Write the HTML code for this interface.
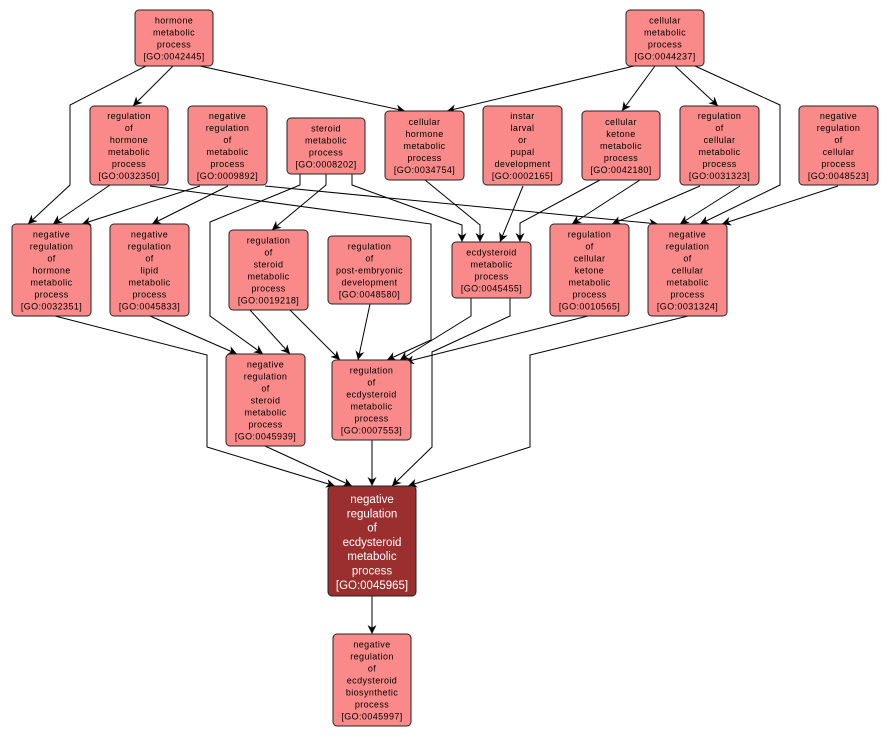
<!DOCTYPE html>
<html><head><meta charset="utf-8"><style>
body{margin:0;background:#fff;}
svg{display:block;}
.n{fill:#fa8a8a;stroke:#222;stroke-width:1;}
.t{font-family:"Liberation Sans",sans-serif;font-size:9px;fill:#000;text-anchor:middle;letter-spacing:0.4px;}
.e{fill:none;stroke:#000;stroke-width:1;}
</style></head><body>
<svg width="890" height="737" viewBox="0 0 890 737" xmlns="http://www.w3.org/2000/svg">
<defs><marker id="a" viewBox="0 0 10 10" refX="10" refY="5" markerWidth="9" markerHeight="9" orient="auto" markerUnits="userSpaceOnUse"><path d="M0,0 L10,5 L0,10 L3,5 z" fill="#000"/></marker></defs>
<g class="e" marker-end="url(#a)">
<polyline points="173,66 133,106"/>
<polyline points="146,66 70,105 70,185 28,224"/>
<polyline points="200,66 405,111"/>
<polyline points="634,66 447,111"/>
<polyline points="655,66 622,111"/>
<polyline points="675,66 718,106"/>
<polyline points="695,66 780,105 780,185 700,224"/>
<polyline points="110,185 53,224"/>
<polyline points="200,186 82,224"/>
<polyline points="228,186 152,224"/>
<polyline points="265,186 658,224"/>
<polyline points="150,186 431,224 431,340 387,360"/>
<polyline points="300,173 300,185 210,222 210,316 263,354"/>
<polyline points="326,173 326,185 272,230"/>
<polyline points="352,173 352,185 462,225 462,242"/>
<polyline points="425,180 480,225 480,242"/>
<polyline points="523,186 500,242"/>
<polyline points="600,180 520,223 520,242"/>
<polyline points="640,180 572,224"/>
<polyline points="700,186 612,224"/>
<polyline points="740,186 680,224"/>
<polyline points="838,186 722,224"/>
<polyline points="150,316 237,354"/>
<polyline points="250,310 290,354"/>
<polyline points="290,310 340,360"/>
<polyline points="370,304 358,360"/>
<polyline points="471,298 471,316 400,360"/>
<polyline points="588,316 405,362"/>
<polyline points="510,298 510,316 432,352 432,447 392,486"/>
<polyline points="55,316 207,355 207,447 335,486"/>
<polyline points="265,446 352,486"/>
<polyline points="372,440 372,486"/>
<polyline points="688,316 530,355 530,447 408,486"/>
<polyline points="372,596 372,634"/>
</g>
<g>
<rect class="n" x="135" y="10" width="78" height="56" rx="4"/>
<rect class="n" x="626" y="10" width="78" height="56" rx="4"/>
<rect class="n" x="90" y="106" width="78" height="79" rx="4"/>
<rect class="n" x="188" y="106" width="79" height="79" rx="4"/>
<rect class="n" x="287" y="118" width="78" height="56" rx="4"/>
<rect class="n" x="385" y="111" width="79" height="69" rx="4"/>
<rect class="n" x="483" y="106" width="79" height="79" rx="4"/>
<rect class="n" x="582" y="111" width="78" height="69" rx="4"/>
<rect class="n" x="680" y="106" width="79" height="79" rx="4"/>
<rect class="n" x="799" y="106" width="79" height="79" rx="4"/>
<rect class="n" x="12" y="224" width="79" height="92" rx="4"/>
<rect class="n" x="110" y="224" width="79" height="92" rx="4"/>
<rect class="n" x="229" y="230" width="79" height="80" rx="4"/>
<rect class="n" x="328" y="236" width="83" height="68" rx="4"/>
<rect class="n" x="452" y="242" width="79" height="56" rx="4"/>
<rect class="n" x="550" y="224" width="79" height="92" rx="4"/>
<rect class="n" x="648" y="224" width="79" height="92" rx="4"/>
<rect class="n" x="226" y="354" width="79" height="92" rx="4"/>
<rect class="n" x="332" y="360" width="79" height="80" rx="4"/>
<rect x="328" y="486" width="88" height="110" rx="4" fill="#9b2f2f" stroke="#222"/>
<rect class="n" x="333" y="634" width="78" height="92" rx="4"/>
</g>
<g class="t">
<text y="23.5"><tspan x="174">hormone</tspan><tspan x="174" dy="12">metabolic</tspan><tspan x="174" dy="12">process</tspan><tspan x="174" dy="12">[GO:0042445]</tspan></text>
<text y="23.5"><tspan x="665">cellular</tspan><tspan x="665" dy="12">metabolic</tspan><tspan x="665" dy="12">process</tspan><tspan x="665" dy="12">[GO:0044237]</tspan></text>
<text y="119"><tspan x="129">regulation</tspan><tspan x="129" dy="12">of</tspan><tspan x="129" dy="12">hormone</tspan><tspan x="129" dy="12">metabolic</tspan><tspan x="129" dy="12">process</tspan><tspan x="129" dy="12">[GO:0032350]</tspan></text>
<text y="119"><tspan x="227.5">negative</tspan><tspan x="227.5" dy="12">regulation</tspan><tspan x="227.5" dy="12">of</tspan><tspan x="227.5" dy="12">metabolic</tspan><tspan x="227.5" dy="12">process</tspan><tspan x="227.5" dy="12">[GO:0009892]</tspan></text>
<text y="131.5"><tspan x="326">steroid</tspan><tspan x="326" dy="12">metabolic</tspan><tspan x="326" dy="12">process</tspan><tspan x="326" dy="12">[GO:0008202]</tspan></text>
<text y="125"><tspan x="424.5">cellular</tspan><tspan x="424.5" dy="12">hormone</tspan><tspan x="424.5" dy="12">metabolic</tspan><tspan x="424.5" dy="12">process</tspan><tspan x="424.5" dy="12">[GO:0034754]</tspan></text>
<text y="119"><tspan x="522.5">instar</tspan><tspan x="522.5" dy="12">larval</tspan><tspan x="522.5" dy="12">or</tspan><tspan x="522.5" dy="12">pupal</tspan><tspan x="522.5" dy="12">development</tspan><tspan x="522.5" dy="12">[GO:0002165]</tspan></text>
<text y="125"><tspan x="621">cellular</tspan><tspan x="621" dy="12">ketone</tspan><tspan x="621" dy="12">metabolic</tspan><tspan x="621" dy="12">process</tspan><tspan x="621" dy="12">[GO:0042180]</tspan></text>
<text y="119"><tspan x="719.5">regulation</tspan><tspan x="719.5" dy="12">of</tspan><tspan x="719.5" dy="12">cellular</tspan><tspan x="719.5" dy="12">metabolic</tspan><tspan x="719.5" dy="12">process</tspan><tspan x="719.5" dy="12">[GO:0031323]</tspan></text>
<text y="119"><tspan x="838.5">negative</tspan><tspan x="838.5" dy="12">regulation</tspan><tspan x="838.5" dy="12">of</tspan><tspan x="838.5" dy="12">cellular</tspan><tspan x="838.5" dy="12">process</tspan><tspan x="838.5" dy="12">[GO:0048523]</tspan></text>
<text y="237.5"><tspan x="51.5">negative</tspan><tspan x="51.5" dy="12">regulation</tspan><tspan x="51.5" dy="12">of</tspan><tspan x="51.5" dy="12">hormone</tspan><tspan x="51.5" dy="12">metabolic</tspan><tspan x="51.5" dy="12">process</tspan><tspan x="51.5" dy="12">[GO:0032351]</tspan></text>
<text y="237.5"><tspan x="149.5">negative</tspan><tspan x="149.5" dy="12">regulation</tspan><tspan x="149.5" dy="12">of</tspan><tspan x="149.5" dy="12">lipid</tspan><tspan x="149.5" dy="12">metabolic</tspan><tspan x="149.5" dy="12">process</tspan><tspan x="149.5" dy="12">[GO:0045833]</tspan></text>
<text y="243.5"><tspan x="268.5">regulation</tspan><tspan x="268.5" dy="12">of</tspan><tspan x="268.5" dy="12">steroid</tspan><tspan x="268.5" dy="12">metabolic</tspan><tspan x="268.5" dy="12">process</tspan><tspan x="268.5" dy="12">[GO:0019218]</tspan></text>
<text y="249.5"><tspan x="369.5">regulation</tspan><tspan x="369.5" dy="12">of</tspan><tspan x="369.5" dy="12">post-embryonic</tspan><tspan x="369.5" dy="12">development</tspan><tspan x="369.5" dy="12">[GO:0048580]</tspan></text>
<text y="255.5"><tspan x="491.5">ecdysteroid</tspan><tspan x="491.5" dy="12">metabolic</tspan><tspan x="491.5" dy="12">process</tspan><tspan x="491.5" dy="12">[GO:0045455]</tspan></text>
<text y="237.5"><tspan x="589.5">regulation</tspan><tspan x="589.5" dy="12">of</tspan><tspan x="589.5" dy="12">cellular</tspan><tspan x="589.5" dy="12">ketone</tspan><tspan x="589.5" dy="12">metabolic</tspan><tspan x="589.5" dy="12">process</tspan><tspan x="589.5" dy="12">[GO:0010565]</tspan></text>
<text y="237.5"><tspan x="687.5">negative</tspan><tspan x="687.5" dy="12">regulation</tspan><tspan x="687.5" dy="12">of</tspan><tspan x="687.5" dy="12">cellular</tspan><tspan x="687.5" dy="12">metabolic</tspan><tspan x="687.5" dy="12">process</tspan><tspan x="687.5" dy="12">[GO:0031324]</tspan></text>
<text y="367.5"><tspan x="265.5">negative</tspan><tspan x="265.5" dy="12">regulation</tspan><tspan x="265.5" dy="12">of</tspan><tspan x="265.5" dy="12">steroid</tspan><tspan x="265.5" dy="12">metabolic</tspan><tspan x="265.5" dy="12">process</tspan><tspan x="265.5" dy="12">[GO:0045939]</tspan></text>
<text y="373.5"><tspan x="371.5">regulation</tspan><tspan x="371.5" dy="12">of</tspan><tspan x="371.5" dy="12">ecdysteroid</tspan><tspan x="371.5" dy="12">metabolic</tspan><tspan x="371.5" dy="12">process</tspan><tspan x="371.5" dy="12">[GO:0007553]</tspan></text>
<text y="647.5"><tspan x="372">negative</tspan><tspan x="372" dy="12">regulation</tspan><tspan x="372" dy="12">of</tspan><tspan x="372" dy="12">ecdysteroid</tspan><tspan x="372" dy="12">biosynthetic</tspan><tspan x="372" dy="12">process</tspan><tspan x="372" dy="12">[GO:0045997]</tspan></text>
</g>
<text y="503" style="font-family:'Liberation Sans',sans-serif;font-size:11.5px;fill:#fff;text-anchor:middle;"><tspan x="372">negative</tspan><tspan x="372" dy="14.3">regulation</tspan><tspan x="372" dy="14.3">of</tspan><tspan x="372" dy="14.3">ecdysteroid</tspan><tspan x="372" dy="14.3">metabolic</tspan><tspan x="372" dy="14.3">process</tspan><tspan x="372" dy="14.3">[GO:0045965]</tspan></text>
</svg>
</body></html>
